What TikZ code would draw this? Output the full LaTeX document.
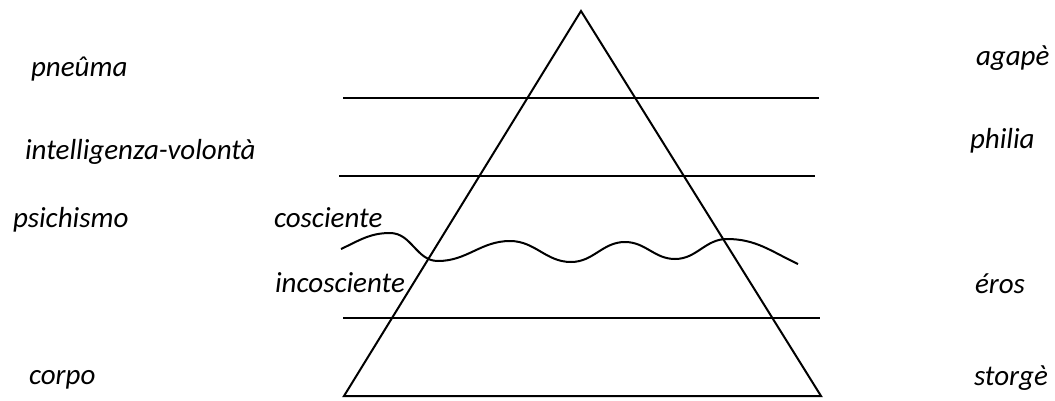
\documentclass[tikz,border=0pt]{standalone}
\usepackage{fontspec}
\setmainfont{Carlito}
\usepackage{tikz}
\usetikzlibrary{positioning, calc}

\begin{document}
\begin{tikzpicture}[x=1pt, y=-1pt, line width=2pt,
  every node/.style={font=\fontsize{29}{34}\selectfont\itshape, inner sep=0pt, anchor=base west}]
  \useasboundingbox (0,0) rectangle (1055,400);
  % the pyramid
  \coordinate (apex) at (581,11);
  \coordinate (bl) at (344,396);
  \coordinate (br) at (821,396);
  \draw[line join=miter] (apex) -- (bl) -- (br) -- cycle;
  % the levels
  \draw (343,98) -- (819,98);
  \draw (339,176) -- (815,176);
  \draw (343,318) -- (820,318);
  % conscious / unconscious threshold
  \draw (341,249) to[out=25,in=180] (390,233) to[out=0,in=180] (438,261)
    to[out=0,in=180] (510,241) to[out=0,in=180] (571,262)
    to[out=0,in=180] (625,242) to[out=0,in=180] (675,259)
    to[out=0,in=180] (727,239) to[out=0,in=155] (798,264);
  % left column
  \node (pneuma) at (30,76) {pneûma};
  \node (intel) at (24,159) {intelligenza-volontà};
  \node (psich) at (12,227) {psichismo};
  \node (corpo) at (28,384) {corpo};
  % threshold labels
  \node (cosc) at (273,227) {cosciente};
  \node (incosc) at (274,292) {incosciente};
  % right column
  \node (agape) at (975,65) {agapè};
  \node (philia) at (969,148) {philia};
  \node (eros) at (974,293) {éros};
  \node (storge) at (973,385) {storgè};
\end{tikzpicture}
\end{document}
